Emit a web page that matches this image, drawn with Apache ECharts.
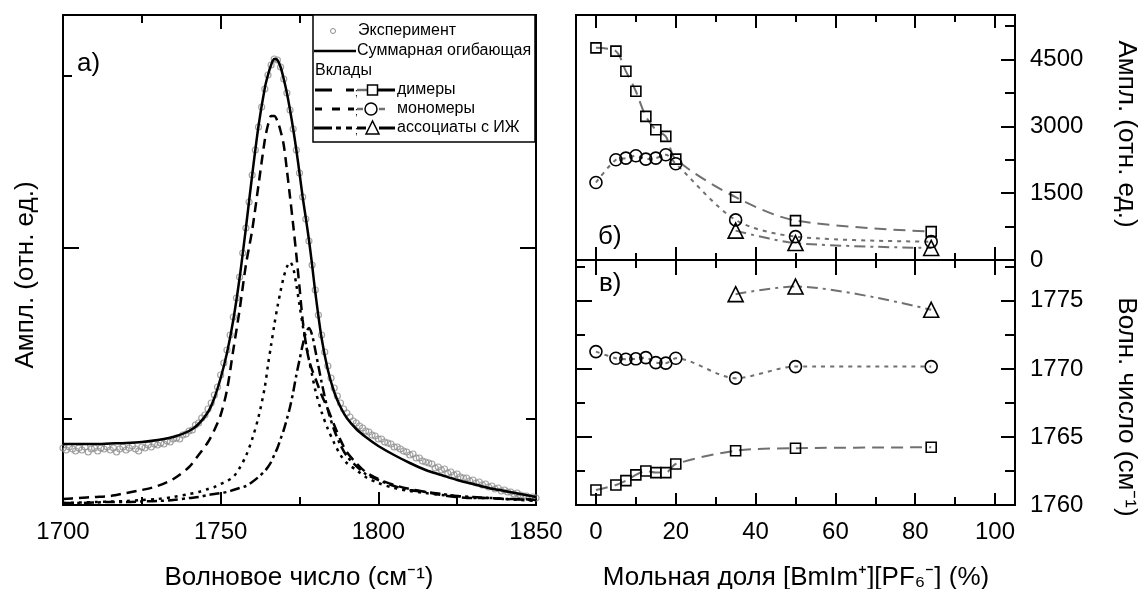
<!DOCTYPE html>
<html>
<head>
<meta charset="utf-8">
<script src="https://cdn.jsdelivr.net/npm/echarts@6/dist/echarts.min.js"></script>
<style>
  html, body { margin: 0; padding: 0; background: #fff; }
  #chart { width: 1142px; height: 589px; }
</style>
</head>
<body>
<div id="chart"></div>
<script>
// ---- panel а): spectrum, amplitude in rel. units ----
const expStart = 1700; // experimental points, one per cm-1
const expAmp = [
  0.57,0.55,0.58,0.56,0.54,0.57,0.55,0.58,0.53,0.56,
  0.57,0.54,0.57,0.56,0.58,0.55,0.57,0.53,0.56,0.58,
  0.55,0.57,0.59,0.56,0.54,0.58,0.57,0.60,0.58,0.61,
  0.60,0.62,0.61,0.64,0.63,0.66,0.67,0.66,0.70,0.71,
  0.74,0.75,0.80,0.82,0.87,0.90,0.96,1.02,1.10,1.18,
  1.30,1.42,1.55,1.70,1.88,2.07,2.28,2.52,2.77,3.03,
  3.30,3.55,3.78,3.98,4.16,4.30,4.40,4.46,4.45,4.38,
  4.26,4.12,3.95,3.76,3.55,3.32,3.08,2.86,2.64,2.40,
  2.15,1.90,1.70,1.53,1.39,1.27,1.17,1.09,1.02,0.96,
  0.92,0.88,0.84,0.82,0.79,0.77,0.74,0.73,0.70,0.69,
  0.66,0.66,0.63,0.62,0.61,0.58,0.58,0.56,0.54,0.53,
  0.50,0.51,0.47,0.47,0.44,0.43,0.42,0.41,0.37,0.38,
  0.35,0.36,0.32,0.33,0.30,0.31,0.28,0.27,0.27,0.24,
  0.25,0.22,0.23,0.20,0.21,0.18,0.19,0.16,0.17,0.14,
  0.15,0.13,0.13,0.11,0.12,0.10,0.09,0.09,0.07,0.08,
  0.07
];
const fitNu = [1700,1705,1710,1715,1720,1725,1730,1735,1740,1743,1746,1748,1750,1752,1754,1756,1758,1760,1762,1764,
  1765,1766,1767,1768,1769,1770,1771,1772,1773,1774,1775,1776,1777,1778,1779,1780,1782,1784,1786,1788,1790,1793,1796,
  1800,1805,1810,1815,1820,1825,1830,1835,1840,1845,1850];
const fitTotal = [0.61,0.61,0.61,0.615,0.62,0.63,0.65,0.68,0.74,0.81,0.93,1.07,1.27,1.52,1.85,2.27,2.77,3.30,3.79,4.17,
  4.30,4.40,4.46,4.45,4.38,4.26,4.12,3.95,3.76,3.55,3.32,3.08,2.87,2.65,2.40,2.13,1.67,1.35,1.13,0.98,0.87,0.76,0.68,
  0.59,0.50,0.42,0.35,0.30,0.25,0.21,0.17,0.14,0.11,0.08];
const fitDimer = [0.06,0.07,0.08,0.09,0.12,0.15,0.19,0.26,0.38,0.50,0.63,0.75,0.90,1.15,1.55,1.95,2.40,2.75,3.20,3.65,
  3.80,3.89,3.89,3.84,3.74,3.60,3.35,3.08,2.80,2.50,2.18,1.85,1.62,1.45,1.35,1.27,1.10,0.96,0.80,0.65,0.53,0.42,0.33,
  0.26,0.20,0.16,0.13,0.10,0.08,0.07,0.07,0.06,0.06,0.05];
const fitMonomer = [0.02,0.025,0.03,0.035,0.04,0.05,0.06,0.08,0.11,0.13,0.16,0.18,0.21,0.24,0.28,0.37,0.49,0.66,0.88,1.18,
  1.40,1.60,1.80,1.98,2.14,2.28,2.38,2.43,2.37,2.20,2.00,1.80,1.62,1.45,1.30,1.15,0.93,0.76,0.62,0.50,0.42,0.35,0.28,
  0.22,0.17,0.14,0.12,0.10,0.09,0.07,0.07,0.06,0.05,0.04];
const fitAssoc = [0.02,0.02,0.025,0.03,0.03,0.035,0.04,0.05,0.07,0.08,0.10,0.11,0.12,0.13,0.15,0.17,0.19,0.23,0.28,0.34,
  0.38,0.43,0.50,0.57,0.66,0.75,0.86,0.98,1.13,1.30,1.45,1.60,1.72,1.77,1.70,1.55,1.23,0.95,0.75,0.60,0.49,0.39,0.31,
  0.25,0.19,0.15,0.13,0.11,0.09,0.08,0.07,0.06,0.055,0.05];

// ---- panels б) and в): vs mole fraction ----
const molFrac = [0, 5, 7.5, 10, 12.5, 15, 17.5, 20, 35, 50, 84];
const ampDimer = [4763, 4688, 4238, 3788, 3225, 2925, 2775, 2265, 1410, 885, 638];
const ampMonomer = [1740, 2250, 2288, 2340, 2265, 2288, 2363, 2160, 900, 525, 412];
const assocFrac = [35, 50, 84];
const ampAssoc = [660, 380, 270];
const nuDimer = [1761.10, 1761.47, 1761.79, 1762.21, 1762.50, 1762.38, 1762.38, 1763.01, 1763.99, 1764.17, 1764.24];
const nuMonomer = [1771.27, 1770.78, 1770.71, 1770.74, 1770.83, 1770.46, 1770.42, 1770.78, 1769.32, 1770.17, 1770.17];
const nuAssoc = [1775.49, 1776.05, 1774.34];

const FONT = '"Liberation Sans", Arial, sans-serif';
const GRAY = '#707070';

const xAxes = [], yAxes = [];
function axis(list, o) {
  list.push(Object.assign({
    type: 'value',
    axisLine: { show: false, onZero: false },
    splitLine: { show: false },
    axisLabel: { show: false },
    axisTick: { show: false }
  }, o));
  return list.length - 1;
}
function tk(values, len) {
  return { show: true, inside: true, length: len, customValues: values, lineStyle: { color: '#000', width: 2 } };
}
// major ticks (+labels) and a second axis for the short minor ticks
function pair(list, grid, pos, min, max, major, minor, lenMaj, lenMin, labels) {
  const i = axis(list, {
    gridIndex: grid, position: pos, min: min, max: max,
    axisTick: tk(major, lenMaj),
    axisLabel: labels ? {
      show: true, customValues: labels, color: '#000', fontSize: 24, fontFamily: FONT, margin: 15,
      formatter: v => String(v)
    } : { show: false }
  });
  if (minor.length) axis(list, { gridIndex: grid, position: pos, min: min, max: max, axisTick: tk(minor, lenMin) });
  return i;
}

// grid 0 : spectrum
const xa = pair(xAxes, 0, 'bottom', 1700, 1850, [1750, 1800], [1725, 1775, 1825], 13, 8, [1700, 1750, 1800, 1850]);
pair(xAxes, 0, 'top', 1700, 1850, [1750, 1800], [1725, 1775, 1825], 14, 8);
const ya = pair(yAxes, 0, 'left', 0, 4.9, [2.57], [0.86, 4.29], 16, 9);
pair(yAxes, 0, 'right', 0, 4.9, [2.57], [0.86, 4.29], 16, 10);

// grid 1 : amplitudes
const fracMaj = [0, 20, 40, 60, 80, 100], fracMin = [10, 30, 50, 70, 90];
const xb = pair(xAxes, 1, 'bottom', -5, 105, fracMaj, fracMin, 13, 7);
pair(xAxes, 1, 'top', -5, 105, fracMaj, fracMin, 13, 7);
const yb = pair(yAxes, 1, 'right', 0, 5500, [1500, 3000, 4500], [750, 2250, 3750, 5250], 14, 10, [0, 1500, 3000, 4500]);

// grid 2 : wavenumbers
const xc = pair(xAxes, 2, 'bottom', -5, 105, fracMaj, fracMin, 12, 8, fracMaj);
pair(xAxes, 2, 'top', -5, 105, fracMaj, fracMin, 15, 8);
const yc = pair(yAxes, 2, 'right', 1760, 1778, [1765, 1770, 1775], [1762.5, 1767.5, 1772.5, 1777.5], 14, 10, [1760, 1765, 1770, 1775]);
pair(yAxes, 2, 'left', 1760, 1778, [1765, 1770, 1775], [1762.5, 1767.5, 1772.5, 1777.5], 16, 9);

function fitLine(vals, dash) {
  return {
    type: 'line', xAxisIndex: xa, yAxisIndex: ya,
    data: fitNu.map((n, i) => [n, vals[i]]),
    showSymbol: false, smooth: 0.3, z: 3,
    lineStyle: { color: '#000', width: 2.5, type: dash }
  };
}
function pts(xs, ys, xi, yi, sym, size, dash) {
  return {
    type: 'line', xAxisIndex: xi, yAxisIndex: yi,
    data: xs.map((x, i) => [x, ys[i]]),
    smooth: 0.3, symbol: sym, symbolSize: size, showAllSymbol: true,
    lineStyle: { color: GRAY, width: 2, type: dash },
    itemStyle: { color: 'rgba(0,0,0,0)', borderColor: '#000', borderWidth: 1.6 }
  };
}
const dashD = [12, 7], dashM = [4, 5], dashA = [11, 5, 3, 5];

const series = [
  {
    type: 'scatter', xAxisIndex: xa, yAxisIndex: ya,
    data: expAmp.map((v, i) => [expStart + i, v]),
    symbol: 'circle', symbolSize: 6, z: 2,
    itemStyle: { color: 'rgba(0,0,0,0)', borderColor: '#8c8c8c', borderWidth: 1.2 }
  },
  fitLine(fitDimer, [10, 6]),
  fitLine(fitMonomer, [3, 5]),
  fitLine(fitAssoc, [10, 4, 3, 4]),
  fitLine(fitTotal, 'solid'),
  pts(molFrac, ampDimer, xb, yb, 'rect', 10, dashD),
  pts(molFrac, ampMonomer, xb, yb, 'circle', 12, dashM),
  pts(assocFrac, ampAssoc, xb, yb, 'triangle', 15, dashA),
  pts(molFrac, nuDimer, xc, yc, 'rect', 10, dashD),
  pts(molFrac, nuMonomer, xc, yc, 'circle', 12, dashM),
  pts(assocFrac, nuAssoc, xc, yc, 'triangle', 15, dashA)
];

// ---- legend box and texts ----
function txt(x, y, s, size, extra) {
  return Object.assign({
    type: 'text', x: x, y: y, z: 101,
    style: { text: s, fontSize: size || 16, fontFamily: FONT, fill: '#000', align: 'left', verticalAlign: 'middle' }
  }, extra || {});
}
function seg(x1, x2, y, color, w) {
  return { type: 'line', z: 101, shape: { x1: x1, y1: y, x2: x2, y2: y }, style: { stroke: color, lineWidth: w } };
}
function title(x, y, s, rot) {
  return {
    type: 'text', x: x, y: y, rotation: rot || 0, z: 101,
    style: { text: s, fontSize: 26, fontFamily: FONT, fill: '#000', align: 'center', verticalAlign: 'middle' }
  };
}
const graphics = [
  { type: 'rect', z: 100, shape: { x: 313, y: 15, width: 222, height: 127 }, style: { fill: '#fff', stroke: '#000', lineWidth: 1.5 } },
  { type: 'circle', z: 101, shape: { cx: 333, cy: 31, r: 2.5 }, style: { fill: 'none', stroke: '#8c8c8c', lineWidth: 1 } },
  txt(358, 31, 'Эксперимент'),
  seg(314, 356, 51, '#000', 2.5),
  txt(357, 51, 'Суммарная огибающая'),
  txt(315, 71, 'Вклады'),
  seg(315, 332, 90, '#000', 3), seg(346, 354, 90, '#000', 3),
  txt(355, 93, ';', 10),
  seg(357, 367, 90, GRAY, 2.5),
  { type: 'rect', z: 101, shape: { x: 367.5, y: 85, width: 10, height: 10 }, style: { fill: '#fff', stroke: '#000', lineWidth: 1.5 } },
  seg(378, 395, 90, '#000', 3),
  txt(397, 90, 'димеры'),
  seg(315, 322, 109, '#000', 3), seg(332, 340, 109, '#000', 3), seg(348, 354, 109, '#000', 3),
  txt(355, 112, ';', 10),
  seg(357, 363, 109, GRAY, 2.5),
  { type: 'circle', z: 101, shape: { cx: 371, cy: 109, r: 6 }, style: { fill: '#fff', stroke: '#000', lineWidth: 1.5 } },
  seg(379, 385, 109, GRAY, 2.5),
  txt(397, 109, 'мономеры'),
  seg(314, 332, 128, '#000', 3), seg(336, 341, 128, '#000', 3), seg(346, 352, 128, '#000', 3),
  txt(355, 131, ';', 10),
  seg(357, 366, 128, '#000', 3),
  { type: 'polygon', z: 101, shape: { points: [[372.5, 121], [366, 134], [379, 134]] }, style: { fill: '#fff', stroke: '#000', lineWidth: 1.5 } },
  seg(379, 395, 128, '#000', 3),
  txt(397, 128, 'ассоциаты с ИЖ'),
  txt(77, 64, 'а)', 26),
  txt(598, 237, 'б)', 26),
  txt(599, 284, 'в)', 26),
  title(299, 578, 'Волновое число (см⁻¹)'),
  title(796, 578, 'Мольная доля [BmIm⁺][PF₆⁻] (%)'),
  title(26, 275, 'Ампл. (отн. ед.)', Math.PI / 2),
  title(1126, 134, 'Ампл. (отн. ед.)', -Math.PI / 2),
  title(1126, 407, 'Волн. число (см⁻¹)', -Math.PI / 2)
];

const chart = echarts.init(document.getElementById('chart'));
chart.setOption({
  animation: false,
  backgroundColor: '#fff',
  textStyle: { fontFamily: FONT },
  grid: [
    { left: 63, top: 15, width: 473, height: 490, show: true, borderColor: '#000', borderWidth: 2 },
    { left: 576, top: 15, width: 439, height: 245, show: true, borderColor: '#000', borderWidth: 2 },
    { left: 576, top: 260, width: 439, height: 245, show: true, borderColor: '#000', borderWidth: 2 }
  ],
  xAxis: xAxes,
  yAxis: yAxes,
  series: series,
  graphic: { elements: graphics }
});
</script>
</body>
</html>
